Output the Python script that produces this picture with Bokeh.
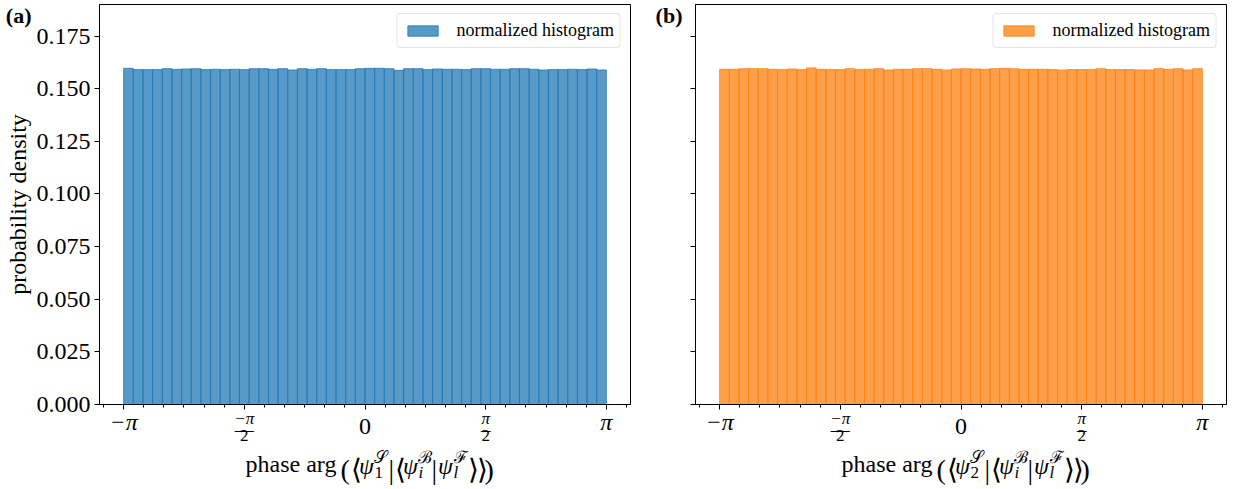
import json
import numpy as np
from bokeh.plotting import figure
from bokeh.models import (Range1d, FixedTicker, SingleIntervalTicker, NumeralTickFormatter,
                          CustomJSTickFormatter, ColumnDataSource, LinearAxis)
from bokeh.layouts import row
from bokeh.embed import file_html
from bokeh.resources import INLINE

# ---------------- data ----------------
n_bins = 50
bin_edges = np.linspace(-np.pi, np.pi, n_bins + 1)

density_a = [0.15970, 0.15907, 0.15907, 0.15907, 0.15954, 0.15923, 0.15938, 0.15954, 0.15907, 0.15923,
             0.15907, 0.15923, 0.15907, 0.15954, 0.15954, 0.15923, 0.15954, 0.15891, 0.15954, 0.15923,
             0.15954, 0.15907, 0.15907, 0.15907, 0.15954, 0.15970, 0.15970, 0.15954, 0.15875, 0.15954,
             0.15954, 0.15907, 0.15938, 0.15923, 0.15923, 0.15907, 0.15954, 0.15954, 0.15923, 0.15923,
             0.15954, 0.15954, 0.15923, 0.15891, 0.15907, 0.15907, 0.15923, 0.15907, 0.15938, 0.15891]

density_b = [0.15923, 0.15923, 0.15954, 0.15954, 0.15954, 0.15923, 0.15907, 0.15938, 0.15907, 0.15986,
             0.15923, 0.15907, 0.15907, 0.15954, 0.15907, 0.15923, 0.15954, 0.15891, 0.15923, 0.15923,
             0.15954, 0.15954, 0.15923, 0.15891, 0.15938, 0.15954, 0.15938, 0.15923, 0.15954, 0.15970,
             0.15954, 0.15923, 0.15923, 0.15923, 0.15907, 0.15891, 0.15907, 0.15907, 0.15907, 0.15954,
             0.15907, 0.15907, 0.15907, 0.15891, 0.15891, 0.15954, 0.15923, 0.15954, 0.15891, 0.15954]

panel_tags = ["(a)", "(b)"]
state_index = ["1", "2"]
colors = ["#1f77b4", "#ff7f0e"]
legend_text = "normalized histogram"
y_label = "probability density"
x_major = [-np.pi, -np.pi / 2, 0.0, np.pi / 2, np.pi]
x_minor = [k * np.pi / 12 for k in range(-13, 14)]
numerator_labels = ["", "\u2212\u03c0", "", "\u03c0", ""]      # on the main axis (at -pi/2, pi/2)
pi_ticks, pi_labels = [-np.pi, np.pi], ["\u2212\u03c0", "\u03c0"]
zero_ticks, zero_labels = [0.0], ["0"]
half_ticks = [-np.pi / 2, np.pi / 2]
half_bar, half_den = ["\u2014", "\u2013"], ["2", "2"]
tag_y = 0.1848  # vertical place of the panel tag, in data units

SERIF = "Liberation Serif"
FRAME_W, FRAME_H = 531, 400
TOP_B, BOT_B = 4, 85
X_LO, X_HI = -1.1 * np.pi, 1.1 * np.pi
PX = (X_HI - X_LO) / FRAME_W  # data units per pixel along x


def label_axis(p, place, ticks, labels, size, style, standoff):
    ax = LinearAxis(ticker=FixedTicker(ticks=list(ticks), minor_ticks=[]),
                    formatter=CustomJSTickFormatter(
                        code="const L = %s; return L[index];" % json.dumps(labels)),
                    axis_line_color=None, major_tick_line_color=None,
                    minor_tick_line_color=None, major_tick_out=0, major_tick_in=0,
                    major_label_standoff=standoff, major_label_text_font=SERIF,
                    major_label_text_font_size=f"{size}px",
                    major_label_text_font_style=style, major_label_text_color="black")
    p.add_layout(ax, place)
    return ax


def make_panel(dens, color, tag, idx, left_b, right_b, show_ylabels, tag_standoff):
    p = figure(frame_width=FRAME_W, frame_height=FRAME_H,
               x_range=Range1d(X_LO, X_HI), y_range=Range1d(0, 0.19),
               output_backend="svg", toolbar_location=None,
               min_border_left=left_b, min_border_right=right_b,
               min_border_top=TOP_B, min_border_bottom=BOT_B)
    src = ColumnDataSource(dict(left=bin_edges[:-1], right=bin_edges[1:], top=dens))
    p.quad(left="left", right="right", top="top", bottom=0, source=src,
           fill_color=color, fill_alpha=0.75, line_color=color, line_alpha=0.75,
           line_width=1, legend_label=legend_text)

    p.xgrid.grid_line_color = None
    p.ygrid.grid_line_color = None
    p.outline_line_color = "black"
    p.outline_line_alpha = 1
    p.outline_line_width = 1

    # main x axis: tick marks + fraction numerators
    xa = p.xaxis[0]
    xa.ticker = FixedTicker(ticks=x_major, minor_ticks=x_minor)
    xa.formatter = CustomJSTickFormatter(code="const L = %s; return L[index];" % json.dumps(numerator_labels))
    xa.major_label_text_font = SERIF
    xa.major_label_text_font_size = "17px"
    xa.major_label_text_font_style = "italic"
    xa.major_label_text_color = "black"
    xa.major_label_standoff = -1
    xa.major_tick_out = 5
    xa.major_tick_in = 0
    xa.minor_tick_out = 3
    xa.minor_tick_in = 0
    xa.axis_line_color = "black"
    xa.major_tick_line_color = "black"
    xa.minor_tick_line_color = "black"

    # further rows of tick text
    label_axis(p, "below", pi_ticks, pi_labels, 24, "italic", -22)
    label_axis(p, "below", half_ticks, half_bar, 19, "normal", -19)
    label_axis(p, "below", zero_ticks, zero_labels, 24, "normal", -24)
    label_axis(p, "below", half_ticks, half_den, 17, "normal", -13)

    # x axis title: phase arg( <psi_idx^S| <psi_i^B|psi_l^F> > ), pieces placed by pixel offset
    def at(offsets):
        return [o * PX for o in offsets]
    label_axis(p, "below", at([15.5, 60, 95.5]), ["\U0001d4ae", "\u212c", "\u2131"], 17, "normal", 4)
    label_axis(p, "below", at([-74]), ["phase arg"], 24, "normal", -19)
    label_axis(p, "below", at([1.5, 45.5, 80.5]), ["\u03c8", "\u03c8", "\u03c8"], 24, "italic", -27)
    label_axis(p, "below", at([13.8]), [idx], 17, "normal", -15)
    label_axis(p, "below", at([55.9, 90.9]), ["i", "l"], 17, "italic", -19)
    label_axis(p, "below", at([-19.8, -9, 26.3, 35, 69.3, 108, 117, 124.2]),
               ["(", "\u27e8", "|", "\u27e8", "|", "\u27e9", "\u27e9", ")"], 28, "normal", -31)

    ya = p.yaxis[0]
    ya.ticker = SingleIntervalTicker(interval=0.025, num_minor_ticks=0)
    ya.major_tick_out = 5
    ya.major_tick_in = 0
    ya.minor_tick_line_color = None
    ya.axis_line_color = "black"
    ya.major_tick_line_color = "black"
    if show_ylabels:
        ya.formatter = NumeralTickFormatter(format="0.000")
        ya.major_label_text_font = SERIF
        ya.major_label_text_font_size = "24px"
        ya.major_label_text_color = "black"
        ya.major_label_standoff = 4
        ya.axis_label = y_label
        ya.axis_label_text_font = SERIF
        ya.axis_label_text_font_size = "24px"
        ya.axis_label_text_font_style = "normal"
        ya.axis_label_text_color = "black"
        ya.axis_label_standoff = 3
    else:
        ya.formatter = CustomJSTickFormatter(code="return ''")
        ya.major_label_standoff = 0

    # panel tag "(a)" / "(b)" as the only label of an extra, invisible left axis
    label_axis(p, "left", [tag_y], [tag], 22, "bold", tag_standoff)

    # legend
    lg = p.legend[0]
    lg.location = "top_right"
    lg.margin = 9
    lg.padding = 6
    lg.glyph_width = 38
    lg.glyph_height = 13
    lg.label_standoff = 15
    lg.label_text_font = SERIF
    lg.label_text_font_size = "18px"
    lg.label_text_color = "black"
    lg.border_line_color = "#cccccc"
    lg.background_fill_alpha = 0.8
    if "border_radius" in lg.properties():
        lg.border_radius = 4
    return p


p1 = make_panel(density_a, colors[0], panel_tags[0], state_index[0], 99, 10, True, -30)
p2 = make_panel(density_b, colors[1], panel_tags[1], state_index[1], 55, 11, False, 8)

layout = row(p1, p2)
open("out.html", "w").write(file_html(layout, INLINE))
